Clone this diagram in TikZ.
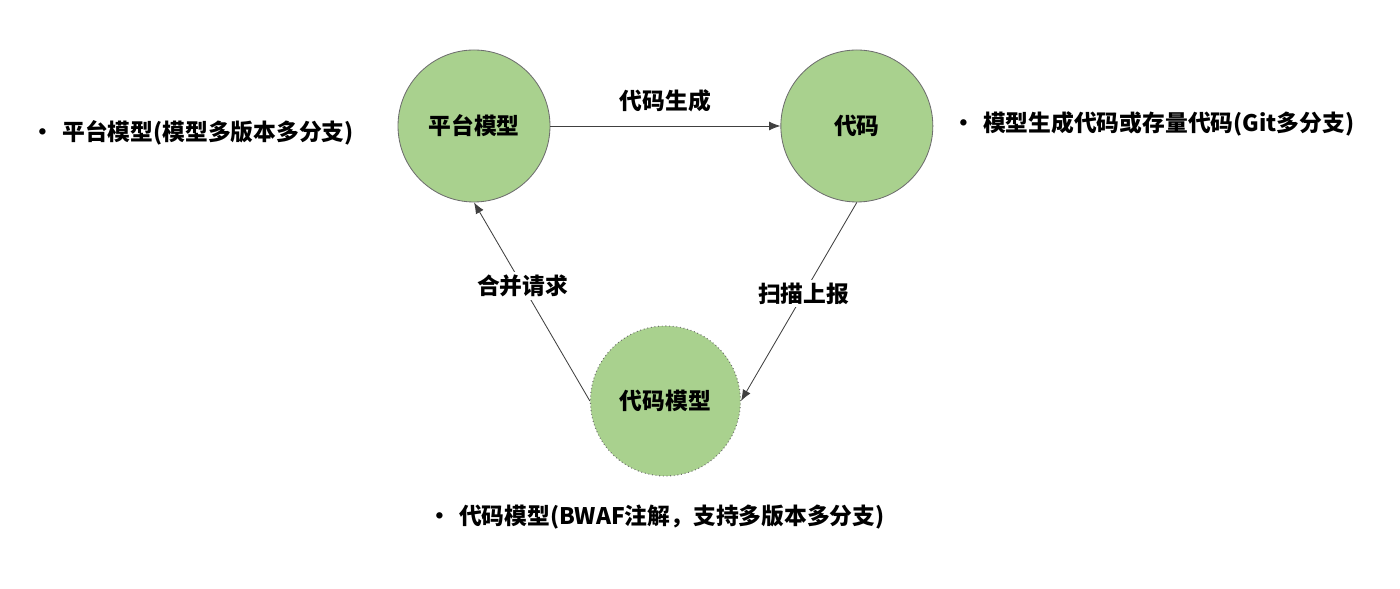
\documentclass[tikz,border=0pt]{standalone}
\usepackage{fontspec}
\newfontfamily\cjk{Noto Sans CJK SC}
\usepackage{tikz}
\usetikzlibrary{arrows.meta,positioning,calc}

\definecolor{leafgreen}{HTML}{A9D18E}
\definecolor{rimgray}{HTML}{6E6E6E}

\begin{document}
\begin{tikzpicture}[
  font=\cjk\bfseries\fontsize{16.2}{19}\selectfont,
  stage/.style={circle, draw=rimgray, line width=0.6pt, fill=leafgreen, minimum size=3.8cm, inner sep=0pt},
  dotstage/.style={stage, dotted, line width=0.8pt, minimum size=3.75cm},
  note/.style={anchor=west, inner sep=0pt},
  edge/.style={-{Latex[length=2.8mm,width=2.2mm]}, line width=0.6pt, draw=black!75},
  tag/.style={fill=white, inner sep=2pt}
]
\useasboundingbox (0,0) rectangle (35,14.725);

\node[stage] (platform) at (11.85,11.575) {平台模型};
\node[stage, right=5.75cm of platform] (code) {代码};
\node[dotstage] (codemodel) at ($(platform)!0.5!(code)+(0,-6.875)$) {代码模型};

\node[note] (platnote) at (0.78,11.4) {·\hspace{0.2cm}平台模型(模型多版本多分支)};
\node[note] (codenote) at (23.8,11.625) {·\hspace{0.2cm}模型生成代码或存量代码(Git多分支)};
\node[note] (cmnote) at (10.7,1.8) {·\hspace{0.2cm}代码模型(BWAF注解，支持多版本多分支)};

\draw[edge] (platform) -- node[above=6pt] {代码生成} (code);
\draw[edge] (code.south) -- node[tag, pos=0.46] {扫描上报} (codemodel.east);
\draw[edge] (codemodel.west) -- node[tag, pos=0.58] {合并请求} (platform.south);
\end{tikzpicture}
\end{document}
